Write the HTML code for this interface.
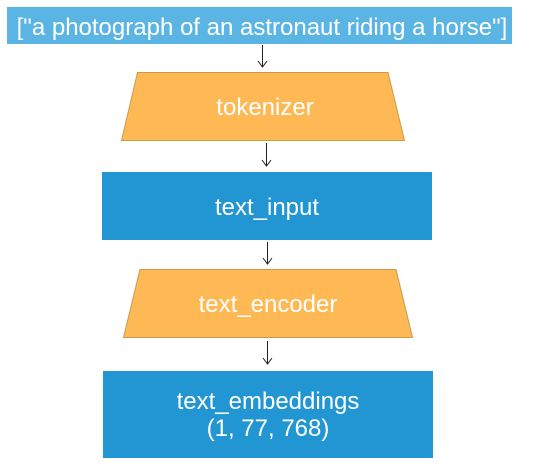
<!DOCTYPE html>
<html><head><style>
body{margin:0;background:#fff;width:533px;height:465px;overflow:hidden}
</style></head><body>
<svg width="533" height="465" xmlns="http://www.w3.org/2000/svg" font-family="Liberation Sans, sans-serif" fill="#fff">
<rect x="7" y="7" width="505" height="37" fill="#5ab5e4"/>
<text x="262" y="35" font-size="24" text-anchor="middle">["a photograph of an astronaut riding a horse"]</text>
<g stroke="#222" stroke-width="1" fill="none">
<path d="M262.5 45V67M258 61l4.5 6 4.5-6"/>
<path d="M266.5 143V166M262 160l4.5 6 4.5-6"/>
<path d="M267.5 242V264M263 258l4.5 6 4.5-6"/>
<path d="M267.5 341V364M263 358l4.5 6 4.5-6"/>
</g>
<polygon points="137.5,72.5 388,72.5 404.5,140.5 121.5,140.5" fill="#ffb954" stroke="#c99a4a"/>
<text x="265" y="115" font-size="24" text-anchor="middle">tokenizer</text>
<rect x="102" y="172" width="330" height="68" fill="#2196d3"/>
<text x="267" y="215" font-size="24" text-anchor="middle">text_input</text>
<polygon points="140,269.5 396,269.5 412.5,337.5 123.5,337.5" fill="#ffb954" stroke="#c99a4a"/>
<text x="268" y="312" font-size="24" text-anchor="middle">text_encoder</text>
<rect x="103" y="371" width="330" height="87" fill="#2196d3"/>
<text x="268" y="409" font-size="24" text-anchor="middle">text_embeddings</text>
<text x="268" y="436" font-size="24" text-anchor="middle">(1, 77, 768)</text>
</svg>
</body></html>
